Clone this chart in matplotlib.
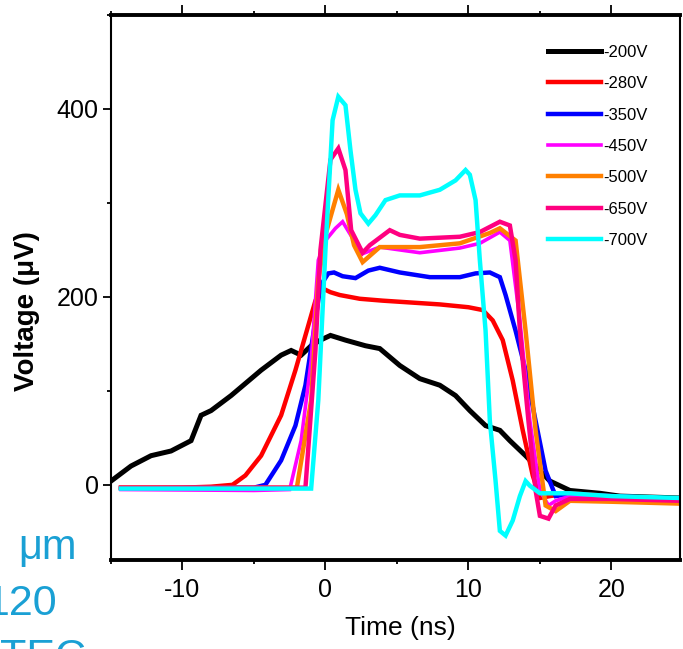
import matplotlib
matplotlib.use("Agg")
import matplotlib.pyplot as plt
from matplotlib.ticker import MultipleLocator

plt.rcParams['font.family'] = ['Liberation Sans', 'DejaVu Sans']
plt.rcParams['axes.unicode_minus'] = False

labels = ["-200V", "-280V", "-350V", "-450V", "-500V", "-650V", "-700V"]
colors = ["#000000", "#ff0000", "#0000ff", "#ff00ff", "#ff8000", "#ff0080", "#00ffff"]

t_200 = [-15.0, -13.6, -12.2, -10.8, -9.4, -8.7, -8.0, -6.6, -4.5, -3.1, -2.4, -1.7, -1.0, -0.35, 0.35, 1.4, 2.8, 3.8,
         5.2, 6.6, 8.0, 9.1, 10.1, 11.2, 12.2, 12.9, 14.0, 14.7, 15.7, 17.1, 19.2, 20.6, 24.8]
v_200 = [4, 20, 31, 36, 47, 74, 79, 95, 122, 138, 143, 138, 148, 154, 159, 154, 148, 145,
         127, 113, 106, 95, 79, 63, 58, 47, 31, 20, 4, -6, -9, -12, -14]

t_280 = [-14.3, -10, -8, -6.5, -5.6, -4.5, -3.1, -2.1, -1.4, -0.7, -0.2, 0.35, 1.0, 2.4, 4, 6, 8, 10, 11, 11.7,
         12.4, 13.1, 13.8, 14.5, 15.0, 15.7, 17, 20, 24.8]
v_280 = [-3, -3, -2, 0, 10, 31, 74, 122, 159, 196, 209, 205, 202, 198, 196, 194, 192, 189, 186, 175,
         154, 111, 58, 10, -14, -12, -9, -12, -15]

t_350 = [-14.3, -8, -5, -4.2, -3.1, -2.1, -1.4, -0.7, -0.35, 0.2, 0.6, 1.2, 2.1, 3.0, 3.8, 5.2, 7.3, 9.4, 10.5,
         11.5, 12.2, 12.6, 13.3, 14.0, 14.7, 15.4, 16.1, 17, 20, 24.8]
v_350 = [-4, -3, -3, 0, 26, 63, 106, 175, 212, 225, 226, 222, 220, 228, 231, 226, 221, 221, 225,
         226, 221, 202, 164, 122, 68, 15, -12, -10, -12, -15]

t_450 = [-14.3, -5, -2.5, -1.7, -1.0, -0.5, 0.0, 0.7, 1.2, 1.8, 2.6, 3.8, 6.6, 9.4, 10.8, 12.2, 12.9, 13.6,
         14.3, 15.0, 15.6, 16.1, 17.1, 20, 24.8]
v_450 = [-5, -6, -5, 47, 132, 239, 260, 273, 280, 265, 246, 253, 247, 252, 257, 269, 260, 175,
         68, -6, -22, -17, -12, -14, -16]

t_500 = [-14.3, -2.0, -1.0, -0.5, 0.0, 0.6, 0.9, 1.5, 2.0, 2.6, 3.8, 6.6, 9.4, 11.5, 12.2, 13.3, 14.0, 14.7,
         15.4, 16.1, 17.1, 20, 24.8]
v_500 = [-3, -3, 90, 218, 266, 298, 314, 288, 255, 237, 253, 253, 257, 268, 273, 260, 164, 58,
         -22, -28, -17, -18, -20]

t_650 = [-14.3, -1.4, -0.7, -0.35, 0.35, 0.9, 1.4, 1.8, 2.6, 3.1, 4.5, 5.2, 6.6, 9.4, 10.8, 12.2, 12.9, 13.3,
         13.6, 14.2, 14.7, 15.0, 15.6, 16.1, 17.1, 20, 24.8]
v_650 = [-3, -3, 143, 250, 346, 358, 335, 271, 247, 255, 271, 266, 262, 264, 269, 280, 276, 239,
         164, 68, -6, -33, -36, -22, -15, -15, -17]

t_700 = [-14.3, -1.0, -0.5, 0.0, 0.5, 0.9, 1.4, 1.75, 2.1, 2.45, 3.0, 3.5, 4.2, 5.2, 6.6, 8.0, 9.1, 9.8, 10.1,
         10.5, 10.8, 11.2, 11.5, 11.9, 12.2, 12.6, 13.1, 13.6, 14.0, 14.3, 15.0, 17.1, 20, 24.8]
v_700 = [-4, -4, 90, 250, 388, 413, 404, 356, 314, 289, 278, 287, 303, 308, 308, 314, 324, 335, 330,
         303, 239, 164, 68, 4, -49, -54, -38, -12, 4, -1, -9, -9, -12, -14]

series_t = [t_200, t_280, t_350, t_450, t_500, t_650, t_700]
series_v = [v_200, v_280, v_350, v_450, v_500, v_650, v_700]
widths = [3.6, 3.2, 3.2, 2.6, 3.2, 3.2, 3.2]

xticks = [-10, 0, 10, 20]
yticks = [0, 200, 400]

W, H = 683, 649
fig = plt.figure(figsize=(W / 100, H / 100), dpi=100)
ax = fig.add_axes([111 / W, (H - 560) / H, (680 - 111) / W, (560 - 15) / H])

for t, v, c, lab, lw in zip(series_t, series_v, colors, labels, widths):
    ax.plot(t, v, color=c, lw=lw, label=lab, solid_joinstyle='miter')

ax.set_xlim(-15, 24.8)
ax.set_ylim(-80, 500)
ax.set_xticks(xticks)
ax.set_yticks(yticks)
ax.xaxis.set_minor_locator(MultipleLocator(5))
ax.yaxis.set_minor_locator(MultipleLocator(100))

ax.tick_params(axis='x', which='major', direction='out', length=7, width=1.3, top=True,
               labelsize=18, pad=6)
ax.tick_params(axis='x', which='minor', direction='out', length=3, width=1.3, top=True)
ax.tick_params(axis='y', which='major', direction='out', length=6, width=1.3, right=False,
               labelsize=18, pad=3)
ax.tick_params(axis='y', which='minor', direction='out', length=3, width=1.3, right=False)

for s in ['top', 'bottom']:
    ax.spines[s].set_linewidth(2.8)
for s in ['left', 'right']:
    ax.spines[s].set_linewidth(1.5)

fig.text(400 / W, 1 - 628 / H, "Time (ns)", ha='center', va='center', fontsize=19)
fig.text(27 / W, 1 - 311 / H, "Voltage (μV)", ha='center', va='center', rotation=90,
         fontsize=20, fontweight='bold')

leg = ax.legend(loc='upper left', bbox_to_anchor=(548 / W, 1 - 45 / H),
                bbox_transform=fig.transFigure, frameon=False, fontsize=12,
                handlelength=3.2, handletextpad=0.1, labelspacing=0.98,
                borderpad=0, borderaxespad=0)

blue = '#1aa0d4'
fig.text(18 / W, 1 - 559 / H, "μm", color=blue, fontsize=30, ha='left', va='baseline')
fig.text(-14 / W, 1 - 615 / H, "120", color=blue, fontsize=31, ha='left', va='baseline')
fig.text(0 / W, 1 - 669 / H, "TEC", color=blue, fontsize=31, ha='left', va='baseline')

fig.savefig("out.png", dpi=100)
